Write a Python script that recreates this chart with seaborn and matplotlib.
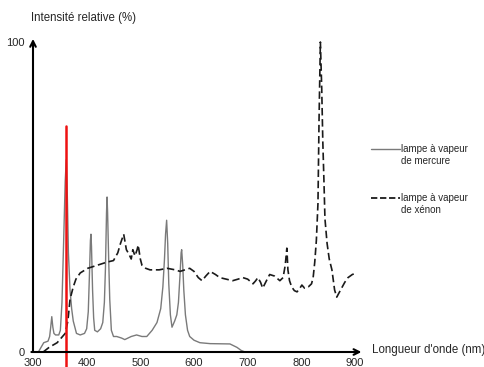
import numpy as np
import pandas as pd
import matplotlib
matplotlib.use("Agg")
import matplotlib.pyplot as plt
from matplotlib.lines import Line2D
import seaborn as sns

# ---- data ----
wl_mercure = [310, 315, 320, 328, 331, 333, 335, 337, 339, 342, 348, 351, 354, 357,
              360, 362, 364, 366, 369, 372, 375, 381, 388, 396, 400, 403, 405, 407,
              408, 409, 411, 413, 415, 420, 426, 430, 433, 435, 437, 438, 439, 441,
              443, 446, 450, 456, 465, 471, 483, 493, 503, 512, 522, 531, 538, 542,
              545, 547, 549, 551, 553, 556, 559, 564, 568, 571, 574, 576, 577, 579,
              581, 584, 588, 592, 600, 611, 630, 667, 680, 688, 695]
int_mercure = [0, 1.5, 3, 3.5, 5, 8, 11.4, 8, 6, 5.5, 5.5, 7, 16, 35,
               55, 62, 50, 32, 20, 14, 10, 6, 5.5, 6, 7.5, 13, 24, 36,
               38, 34, 20, 11, 7, 6.5, 7.5, 9.5, 16, 27, 45, 50, 45, 30,
               17, 7, 5, 5, 4.5, 4, 5, 5.5, 5, 5, 7, 9.5, 14, 21,
               30, 38, 42.5, 35, 22, 12, 8, 10, 12, 16, 25, 32, 33, 28,
               20, 12, 7, 5, 3.8, 3, 2.7, 2.6, 1.5, 0.5, 0]

wl_xenon = [319, 330, 345, 360, 365, 369, 375, 380, 388, 402, 420, 438, 450, 458,
            463, 469, 474, 479, 483, 486, 490, 494, 496, 500, 503, 510, 518, 535,
            550, 565, 574, 583, 592, 600, 608, 615, 622, 630, 640, 648, 660, 672,
            682, 691, 700, 710, 715, 719, 724, 728, 735, 741, 750, 760, 766, 770,
            773, 775, 778, 782, 787, 792, 797, 801, 806, 813, 819, 822, 825, 828,
            831, 833, 835.5, 838, 840, 842, 844, 848, 852, 857, 862, 866, 870,
            875, 881, 887, 895, 903]
int_xenon = [0, 1.5, 3, 6, 10, 17, 21, 23.5, 25.5, 27, 28, 29, 29.5, 32,
             35, 38, 33, 31.5, 30, 33, 31, 33, 34.5, 30, 28, 27, 26.5, 26.5,
             27, 26.5, 26, 26.5, 27, 26, 24, 23, 24.5, 26, 25, 24, 23.5, 23,
             23.5, 24, 23.5, 22, 23, 24, 22.5, 20.6, 23, 25, 24.5, 23, 24, 28,
             33.5, 26.5, 23, 21, 19.8, 19.4, 20.5, 21.6, 20.6, 21, 22, 24, 29, 36,
             48, 75, 100, 85, 68, 56, 43, 35, 30, 26.5, 20, 17.7, 19,
             20.6, 22.5, 24, 25, 25.5]

red_wl = 362
red_top = 73

x_ticks_major = [300, 400, 500, 600, 700, 800, 900]
y_tick_labels = [0, 100]
label_mercure = "lampe à vapeur\nde mercure"
label_xenon = "lampe à vapeur\nde xénon"

# ---- figure ----
sns.set_style("white")
plt.rcParams['font.family'] = ['Liberation Sans', 'DejaVu Sans']

W, H = 485, 367
fig = plt.figure(figsize=(W / 100, H / 100), dpi=100)
ax = fig.add_axes([33 / W, 15 / H, 322 / W, 310 / H])

df = pd.concat([
    pd.DataFrame({"wl": wl_mercure, "I": int_mercure, "lampe": "mercure"}),
    pd.DataFrame({"wl": wl_xenon, "I": int_xenon, "lampe": "xenon"}),
])
sns.lineplot(data=df, x="wl", y="I", hue="lampe", style="lampe",
             palette={"mercure": "#7a7a7a", "xenon": "#1a1a1a"},
             dashes={"mercure": "", "xenon": (4.5, 2.2)},
             legend=False, ax=ax, estimator=None, sort=False)
for ln in ax.get_lines():
    ln.set_clip_on(False)
    ln.set_solid_joinstyle("round")
    ln.set_dash_joinstyle("round")
ax.get_lines()[0].set_linewidth(1.0)
ax.get_lines()[1].set_linewidth(1.2)

ax.axvline(red_wl, ymin=-0.05, ymax=red_top / 100, color="#ee1111", lw=1.8, clip_on=False)

ax.set_xlim(300, 900)
ax.set_ylim(0, 100)
for s in ax.spines.values():
    s.set_visible(False)

# axis arrows
ax.annotate("", xy=(300, 101), xytext=(300, 0), xycoords="data",
            arrowprops=dict(arrowstyle="->", lw=1.5, color="black",
                            shrinkA=0, shrinkB=0, mutation_scale=10),
            annotation_clip=False)
ax.annotate("", xy=(912, 0), xytext=(297, 0), xycoords="data",
            arrowprops=dict(arrowstyle="->", lw=1.5, color="black",
                            shrinkA=0, shrinkB=0, mutation_scale=10),
            annotation_clip=False)

ax.set_xticks(x_ticks_major)
ax.set_xticklabels([str(v) for v in x_ticks_major])
ax.set_xticks(np.arange(300, 901, 20), minor=True)
ax.tick_params(axis="x", which="both", direction="inout", length=4, width=1,
               labelsize=8, pad=2, color="black")
ax.set_yticks(y_tick_labels)
ax.set_yticklabels([str(v) for v in y_tick_labels])
ax.tick_params(axis="y", length=0, labelsize=8, pad=6)
ax.set_xlabel("")
ax.set_ylabel("")
ax.grid(False)

fig.text(31 / W, 1 - 18 / H, "Intensité relative (%)", fontsize=8.3,
         ha="left", va="center")
fig.text(372 / W, 1 - 350 / H, "Longueur d'onde (nm)", fontsize=8.3,
         ha="left", va="center")

# legend
fig.add_artist(Line2D([371 / W, 400 / W], [1 - 149 / H] * 2, color="#7a7a7a", lw=1.0))
fig.add_artist(Line2D([371 / W, 400 / W], [1 - 198 / H] * 2, color="#1a1a1a", lw=1.3,
                      dashes=(3.5, 1.5)))
fig.text(401 / W, 1 - 144 / H, label_mercure, fontsize=7, ha="left", va="top",
         linespacing=1.25)
fig.text(401 / W, 1 - 193 / H, label_xenon, fontsize=7, ha="left", va="top",
         linespacing=1.25)

fig.savefig("out.png", dpi=100)
